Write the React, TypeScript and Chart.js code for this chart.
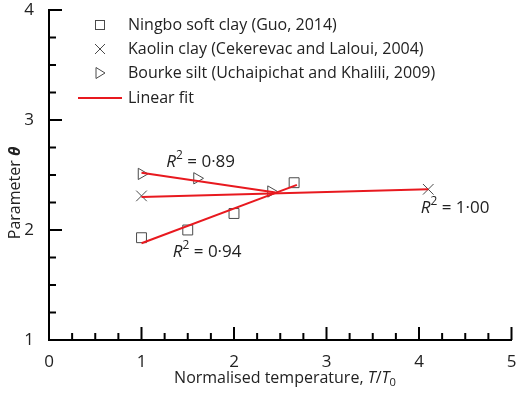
import React, { useEffect, useRef } from "react";
import { Chart, registerables } from "chart.js";

Chart.register(...registerables);

const ningboX = [1, 1.5, 2, 2.65];
const ningboY = [1.93, 2.0, 2.15, 2.43];
const kaolinX = [1, 4.1];
const kaolinY = [2.31, 2.37];
const bourkeX = [1, 1.6, 2.4];
const bourkeY = [2.51, 2.47, 2.35];

const ningboFitX = [1, 2.68];
const ningboFitY = [1.88, 2.41];
const kaolinFitX = [1, 4.1];
const kaolinFitY = [2.3, 2.37];
const bourkeFitX = [1, 2.45];
const bourkeFitY = [2.52, 2.34];

const legendLabels = [
  "Ningbo soft clay (Guo, 2014)",
  "Kaolin clay (Cekerevac and Laloui, 2004)",
  "Bourke silt (Uchaipichat and Khalili, 2009)",
  "Linear fit",
];

const r2Labels = ["0·89", "0·94", "1·00"];
const r2X = [1.64, 1.71, 4.39];
const r2Y = [2.62, 1.8, 2.2];

const xTicks = [0, 1, 2, 3, 4, 5];
const yTicks = [1, 2, 3, 4];

const FONT = "'Open Sans', 'Noto Sans', sans-serif";
const TEXT = "#222";
const MARK = "#4a4a4a";
const RED = "#e8191f";

const pts = (xs: number[], ys: number[]) => xs.map((x, i) => ({ x, y: ys[i] }));

type Seg = { t: string; i?: boolean; b?: boolean; sup?: boolean; sub?: boolean };

function drawRich(ctx: CanvasRenderingContext2D, segs: Seg[], cx: number, cy: number, size: number) {
  const fontFor = (s: Seg) => {
    const sz = s.sup || s.sub ? size * 0.7 : size;
    return `${s.i ? "italic " : ""}${s.b ? "bold " : ""}${sz}px ${FONT}`;
  };
  let total = 0;
  segs.forEach((s) => {
    ctx.font = fontFor(s);
    total += ctx.measureText(s.t).width;
  });
  let x = cx - total / 2;
  ctx.textBaseline = "middle";
  ctx.textAlign = "left";
  segs.forEach((s) => {
    ctx.font = fontFor(s);
    const dy = s.sup ? -size * 0.35 : s.sub ? size * 0.3 : 0;
    ctx.fillText(s.t, x, cy + dy);
    x += ctx.measureText(s.t).width;
  });
}

const decorPlugin = {
  id: "decor",
  afterDraw(chart: any) {
    const ctx = chart.ctx as CanvasRenderingContext2D;
    const xs = chart.scales.x;
    const ys = chart.scales.y;
    const area = chart.chartArea;
    ctx.save();
    // inward ticks
    ctx.strokeStyle = "#000";
    ctx.lineWidth = 2;
    for (let v = 0.25; v <= 5.001; v += 0.25) {
      const px = xs.getPixelForValue(v);
      const major = Math.abs(v - Math.round(v)) < 1e-6;
      const len = major ? 13 : 7;
      ctx.beginPath();
      ctx.moveTo(px, area.bottom);
      ctx.lineTo(px, area.bottom - len);
      ctx.stroke();
    }
    for (let v = 1.25; v <= 4.001; v += 0.25) {
      const py = ys.getPixelForValue(v);
      const major = Math.abs(v - Math.round(v)) < 1e-6;
      const len = major ? 13 : 7;
      ctx.beginPath();
      ctx.moveTo(area.left, py);
      ctx.lineTo(area.left + len, py);
      ctx.stroke();
    }

    ctx.fillStyle = TEXT;
    // axis titles
    drawRich(
      ctx,
      [{ t: "Normalised temperature, " }, { t: "T", i: true }, { t: "/" }, { t: "T", i: true }, { t: "0", sub: true }],
      285,
      378,
      16
    );
    ctx.save();
    ctx.translate(15, 193);
    ctx.rotate(-Math.PI / 2);
    drawRich(ctx, [{ t: "Parameter " }, { t: "θ", i: true, b: true }], 0, 0, 16);
    ctx.restore();

    // R² labels
    r2Labels.forEach((lab, i) => {
      drawRich(
        ctx,
        [{ t: "R", i: true }, { t: "2", sup: true }, { t: " = " + lab }],
        xs.getPixelForValue(r2X[i]),
        ys.getPixelForValue(r2Y[i]),
        17
      );
    });

    // legend
    const rowsY = [25, 49, 73, 98];
    const mx = 100;
    ctx.font = `16px ${FONT}`;
    ctx.textBaseline = "middle";
    ctx.textAlign = "left";
    legendLabels.forEach((lab, i) => {
      ctx.fillStyle = TEXT;
      ctx.fillText(lab, 128, rowsY[i]);
    });
    ctx.strokeStyle = MARK;
    ctx.lineWidth = 1;
    // square
    ctx.strokeRect(mx - 4.5, rowsY[0] - 4.5, 9, 9);
    // cross
    ctx.beginPath();
    ctx.moveTo(mx - 5, rowsY[1] - 5);
    ctx.lineTo(mx + 5, rowsY[1] + 5);
    ctx.moveTo(mx + 5, rowsY[1] - 5);
    ctx.lineTo(mx - 5, rowsY[1] + 5);
    ctx.stroke();
    // triangle right
    ctx.beginPath();
    ctx.moveTo(mx - 4, rowsY[2] - 5.5);
    ctx.lineTo(mx + 5, rowsY[2]);
    ctx.lineTo(mx - 4, rowsY[2] + 5.5);
    ctx.closePath();
    ctx.stroke();
    // line
    ctx.strokeStyle = RED;
    ctx.lineWidth = 2;
    ctx.beginPath();
    ctx.moveTo(78, rowsY[3]);
    ctx.lineTo(122, rowsY[3]);
    ctx.stroke();
    ctx.restore();
  },
};

const noPad = (s: any) => {
  s.paddingTop = 0;
  s.paddingBottom = 0;
  s.paddingLeft = 0;
  s.paddingRight = 0;
};

export default function App() {
  const ref = useRef<HTMLCanvasElement | null>(null);
  useEffect(() => {
    if (!ref.current) return;
    const lineDs = (label: string, xs: number[], ys: number[]) => ({
      label,
      data: pts(xs, ys),
      showLine: true,
      borderColor: RED,
      borderWidth: 2,
      pointRadius: 0,
      fill: false,
    });
    const chart = new Chart(ref.current, {
      type: "scatter",
      data: {
        datasets: [
          lineDs("Ningbo fit", ningboFitX, ningboFitY),
          lineDs("Kaolin fit", kaolinFitX, kaolinFitY),
          lineDs("Bourke fit", bourkeFitX, bourkeFitY),
          {
            label: legendLabels[0],
            data: pts(ningboX, ningboY),
            pointStyle: "rect",
            pointRadius: 7,
            borderColor: MARK,
            backgroundColor: "rgba(0,0,0,0)",
            borderWidth: 1,
          },
          {
            label: legendLabels[1],
            data: pts(kaolinX, kaolinY),
            pointStyle: "crossRot",
            pointRadius: 7.5,
            borderColor: MARK,
            backgroundColor: "rgba(0,0,0,0)",
            borderWidth: 1,
          },
          {
            label: legendLabels[2],
            data: pts(bourkeX, bourkeY),
            pointStyle: "triangle",
            rotation: 90,
            pointRadius: 6.5,
            borderColor: MARK,
            backgroundColor: "rgba(0,0,0,0)",
            borderWidth: 1,
          },
        ],
      } as any,
      options: {
        responsive: false,
        animation: false,
        layout: { padding: { top: 10, right: 8, left: 0, bottom: 0 } },
        plugins: { legend: { display: false }, tooltip: { enabled: false } },
        scales: {
          x: {
            type: "linear",
            min: 0,
            max: 5,
            afterFit: (s: any) => {
              s.height = 60;
              noPad(s);
            },
            afterBuildTicks: (s: any) => {
              s.ticks = xTicks.map((v) => ({ value: v }));
            },
            grid: { display: false, drawTicks: false },
            border: { display: true, color: "#000", width: 2 },
            ticks: { padding: 12, color: TEXT, font: { family: FONT, size: 17 } },
          },
          y: {
            type: "linear",
            min: 1,
            max: 4,
            afterFit: (s: any) => {
              s.width = 49;
              noPad(s);
            },
            afterBuildTicks: (s: any) => {
              s.ticks = yTicks.map((v) => ({ value: v }));
            },
            grid: { display: false, drawTicks: false },
            border: { display: true, color: "#000", width: 2 },
            ticks: { padding: 15, color: TEXT, font: { family: FONT, size: 17 } },
          },
        },
      } as any,
      plugins: [decorPlugin],
    });
    return () => chart.destroy();
  }, []);
  return (
    <div style={{ position: "absolute", left: 0, top: 0, width: 520, height: 400 }}>
      <canvas ref={ref} width={520} height={400} style={{ width: 520, height: 400 }} />
    </div>
  );
}
